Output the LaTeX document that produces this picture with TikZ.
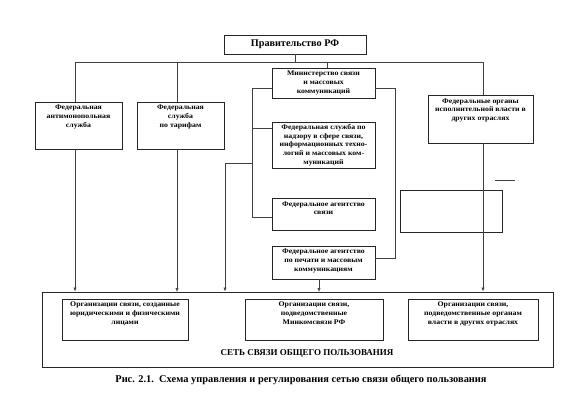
\documentclass[tikz,border=0pt]{standalone}
\usepackage{fontspec}
\setmainfont{Liberation Serif}
\newfontfamily\bxfont[FakeStretch=1.1]{Liberation Serif}
\usetikzlibrary{arrows.meta}
\begin{document}
\begin{tikzpicture}[x=1pt,y=-1pt,
  box/.style={draw=black!85, line width=0.8pt, fill=white, inner sep=0pt},
  txt/.style={font=\bxfont\fontsize{7.1}{8.6}\selectfont\bfseries, align=center, inner sep=0pt, anchor=north},
  ln/.style={draw=black!75, line width=0.6pt},
  arr/.style={ln, -{Latex[length=4pt,width=3.2pt]}}]
\useasboundingbox (0,0) rectangle (578,408);
% boxes
\node[box, minimum width=142pt, minimum height=19pt, font=\fontsize{10.2}{11}\selectfont\bfseries] (gov) at (295,44.5) {Правительство РФ};
\node[box, minimum width=87pt, minimum height=47pt] (fas) at (78.5,125.5) {};
\node[txt] (fast) at (78.5,105) {Федеральная\\антимонопольная\\служба};
\node[box, minimum width=87pt, minimum height=47pt] (tar) at (180.5,125.5) {};
\node[txt] (tart) at (180.5,105) {Федеральная\\служба\\по тарифам};
\node[box, minimum width=103pt, minimum height=30pt] (min) at (323.5,83) {};
\node[txt] (mint) at (323.5,71) {Министерство связи\\и массовых\\коммуникаций};
\node[box, minimum width=103pt, minimum height=46pt] (nad) at (323.5,145) {};
\node[txt] (nadt) at (323.5,124.5) {Федеральная служба по\\надзору в сфере связи,\\информационных техно-\\логий и массовых ком-\\муникаций};
\node[box, minimum width=103pt, minimum height=32pt] (ags) at (323.5,214) {};
\node[txt] (agst) at (323.5,201.5) {Федеральное агентство\\связи};
\node[box, minimum width=103pt, minimum height=33pt] (agp) at (323.5,262.5) {};
\node[txt] (agpt) at (323.5,249) {Федеральное агентство\\по печати и массовым\\коммуникациям};
\node[box, minimum width=105pt, minimum height=48pt] (foiv) at (480.5,119) {};
\node[txt] (foivt) at (480.5,98.5) {Федеральные органы\\исполнительной власти в\\других отраслях};
\node[box, minimum width=102pt, minimum height=42pt] (empty) at (451,211) {};
% big box
\node[box, minimum width=511pt, minimum height=75pt] (big) at (297.5,329.5) {};
\node[box, minimum width=126pt, minimum height=41pt] (o1) at (125,319.5) {};
\node[txt] (o1t) at (125,302) {Организации связи, созданные\\юридическими и физическими\\лицами};
\node[box, minimum width=138pt, minimum height=41pt] (o2) at (314,319.5) {};
\node[txt] (o2t) at (314,302) {Организации связи,\\подведомственные\\Минкомсвязи РФ};
\node[box, minimum width=130pt, minimum height=41pt] (o3) at (473,319.5) {};
\node[txt] (o3t) at (473,302) {Организации связи,\\подведомственные органам\\власти в других отраслях};
\node[font=\fontsize{9}{10}\selectfont\bfseries, inner sep=0pt] (net) at (307,353.5) {СЕТЬ СВЯЗИ ОБЩЕГО ПОЛЬЗОВАНИЯ};
\node[font=\fontsize{10.4}{12}\selectfont\bfseries, inner sep=0pt] (cap) at (301,380) {Рис. 2.1.\ \ Схема управления и регулирования сетью связи общего пользования};
% coordinates
\coordinate (tl) at (75,62);
\coordinate (tr) at (483,62);
\coordinate (lb1) at (252,88);
\coordinate (lb2) at (252,217);
\coordinate (lb3) at (252,163);
\coordinate (la) at (225,163);
\coordinate (rb1) at (395,88);
\coordinate (rb2) at (395,258);
\coordinate (d1) at (495,180);
\coordinate (d2) at (515,180);
% connectors
\draw[ln] (gov.south) -- (gov.south |- tl);
\draw[ln] (tl) -- (tr);
\draw[ln] (tl) -- (tl |- fas.north);
\draw[ln] (177,62) -- (177,102);
\draw[ln] (327,62) -- (327,68);
\draw[ln] (tr) -- (tr |- foiv.north);
\draw[arr] (tl |- fas.south) -- (tl |- big.north);
\draw[arr] (177,149) -- (177,292);
\draw[arr] (tr |- foiv.south) -- (tr |- big.north);
\draw[ln] (min.west |- lb1) -- (lb1) -- (lb2) -- (ags.west |- lb2);
\draw[ln] (lb1 |- 0,128) -- (nad.west |- 0,128);
\draw[arr] (lb3) -- (la) -- (la |- big.north);
\draw[ln] (min.east |- rb1) -- (rb1) -- (rb2) -- (agp.east |- rb2);
\draw[arr] (319,279) -- (319,292);
\draw[ln] (d1) -- (d2);
\end{tikzpicture}
\end{document}
